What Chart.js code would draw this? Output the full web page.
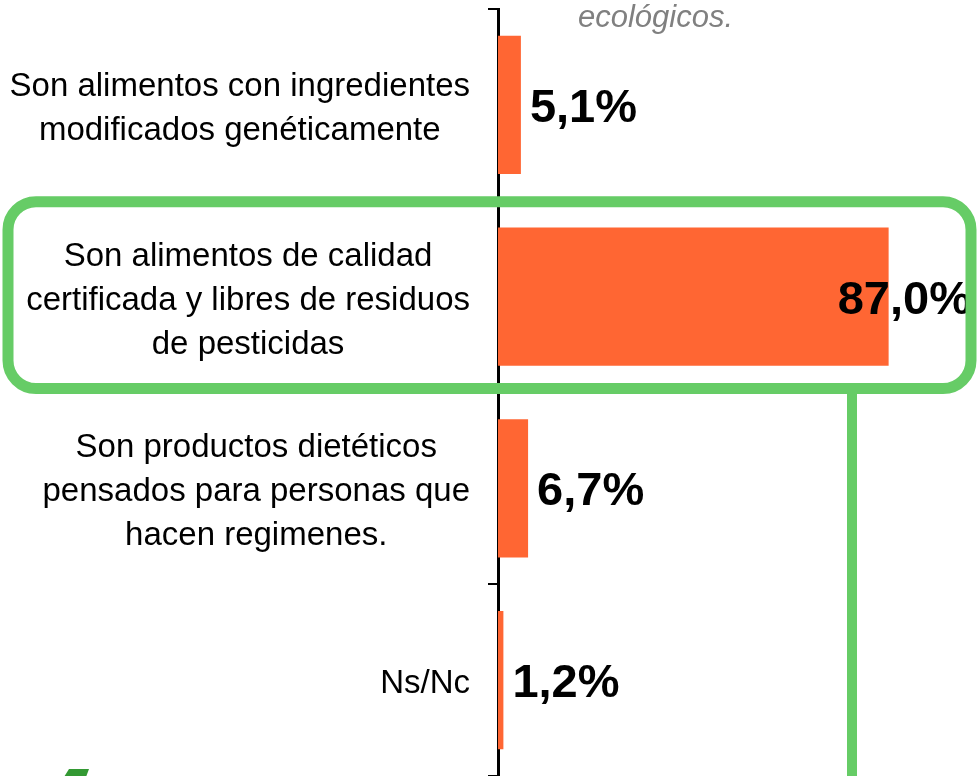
<!DOCTYPE html>
<html>
<head>
<meta charset="utf-8">
<script src="https://cdn.jsdelivr.net/npm/chart.js@4/dist/chart.umd.min.js"></script>
<style>
  html, body { margin: 0; padding: 0; background: #fff; }
  #wrap { width: 977px; height: 776px; }
</style>
</head>
<body>
<div id="wrap"><canvas id="chart"></canvas></div>
<script>
// categorías (cada una en líneas)
const categories = [
    ['Son alimentos con ingredientes', 'modificados genéticamente'],
    ['Son alimentos de calidad', 'certificada y libres de residuos', 'de pesticidas'],
    ['Son productos dietéticos', 'pensados para personas que', 'hacen regimenes.'],
    ['Ns/Nc']
];
const values = [5.1, 87.0, 6.7, 1.2];
const valueLabels = ['5,1%', '87,0%', '6,7%', '1,2%'];
const titleTail = 'ecológicos.';
const highlightIndex = 1;

const FONT = '"Liberation Sans", Arial, sans-serif';

/*------------------------------------------------
    etiquetas y decoraciones
------------------------------------------------*/
const decoPlugin = {
    id: 'deco',
    afterDatasetsDraw(chart) {
        const ctx = chart.ctx;
        const yScale = chart.scales.y;
        const meta = chart.getDatasetMeta(0);
        ctx.save();

        // texto del título (cortado arriba)
        ctx.font = 'italic 31px ' + FONT;
        ctx.fillStyle = '#808080';
        ctx.textAlign = 'left';
        ctx.textBaseline = 'alphabetic';
        ctx.fillText(titleTail, 578, 27);

        // porcentajes
        ctx.font = 'bold 47px ' + FONT;
        ctx.fillStyle = '#000';
        meta.data.forEach((bar, i) => {
            const w = ctx.measureText(valueLabels[i]).width;
            let x = bar.x + 9;
            if (x + w > 971) x = 971 - w;
            ctx.fillText(valueLabels[i], x, bar.y + 17);
        });

        // categorías: bloque alineado a la derecha, líneas centradas
        ctx.font = '33px ' + FONT;
        ctx.textAlign = 'center';
        const lineH = 44;
        categories.forEach((lines, i) => {
            const maxW = Math.max(...lines.map(l => ctx.measureText(l).width));
            const cx = 470 - maxW / 2;
            const cy = yScale.getPixelForValue(i) + 2;
            lines.forEach((l, j) => {
                const ly = cy + (j - (lines.length - 1) / 2) * lineH;
                ctx.fillText(l, cx, ly + 11);
            });
        });

        // recuadro verde
        const band = yScale.getPixelForValue(1) - yScale.getPixelForValue(0);
        const cyH = yScale.getPixelForValue(highlightIndex);
        const top = cyH - band / 2 + 1;
        const bottom = cyH + band / 2 - 4;
        ctx.strokeStyle = '#66CC66';
        ctx.lineWidth = 11;
        ctx.beginPath();
        ctx.roundRect(8, top, 963, bottom - top, 28);
        ctx.stroke();

        // línea vertical verde
        ctx.fillStyle = '#66CC66';
        ctx.fillRect(847, bottom, 10, chart.height - bottom);

        // forma verde abajo a la izquierda
        ctx.fillStyle = '#339933';
        ctx.beginPath();
        ctx.moveTo(69, 769);
        ctx.lineTo(89, 769);
        ctx.lineTo(86, 777);
        ctx.lineTo(64, 777);
        ctx.closePath();
        ctx.fill();

        ctx.restore();
    }
};

const ctx = document.getElementById('chart').getContext('2d');
const chart = new Chart(ctx, {
    type: 'bar',
    data: {
        labels: categories,
        datasets: [{
            data: values,
            backgroundColor: '#FF6633',
            borderWidth: 0,
            barPercentage: 0.72,
            categoryPercentage: 1
        }]
    },
    options: {
        indexAxis: 'y',
        responsive: true,
        maintainAspectRatio: false,
        animation: false,
        layout: {
            padding: { left: 488, right: 30, top: 9, bottom: 0 }
        },
        plugins: {
            legend: { display: false },
            tooltip: { enabled: false }
        },
        scales: {
            x: {
                display: false,
                min: 0,
                max: 100
            },
            y: {
                offset: true,
                ticks: { display: false },
                grid: {
                    offset: true,
                    drawOnChartArea: false,
                    tickLength: 10,
                    color: '#000',
                    lineWidth: 2
                },
                border: {
                    display: true,
                    color: '#000',
                    width: 3
                }
            }
        }
    },
    plugins: [decoPlugin]
});
</script>
</body>
</html>
